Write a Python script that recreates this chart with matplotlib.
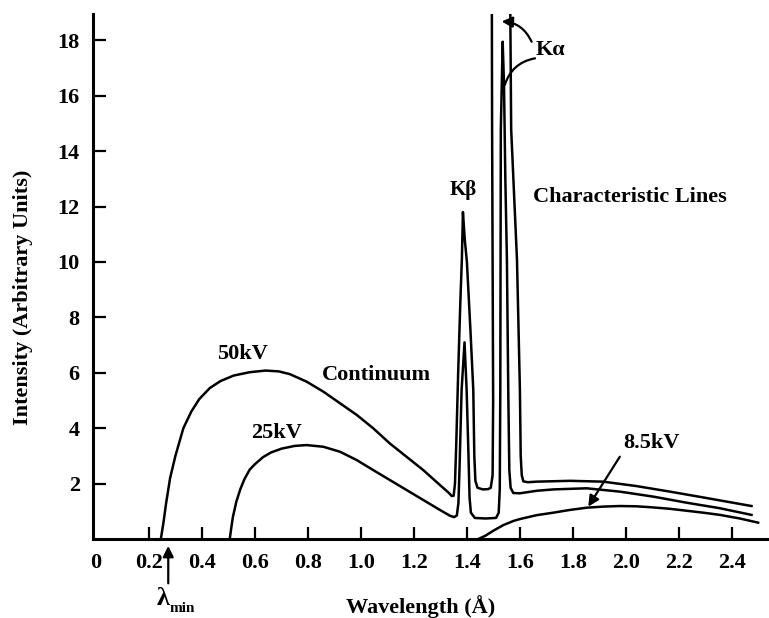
import matplotlib
matplotlib.use("Agg")
import matplotlib.pyplot as plt

plt.rcParams['font.family'] = ['Liberation Serif', 'DejaVu Serif']
plt.rcParams['font.weight'] = 'bold'

# X-ray spectrum of a Cu target: continuum + characteristic K lines
# wavelength in Angstrom, intensity in arbitrary units

# 50 kV tube voltage (continuum, K-beta, K-alpha which goes off scale)
wl_50 = [0.245, 0.255, 0.265, 0.28, 0.30, 0.33, 0.36, 0.39, 0.43, 0.47, 0.52,
         0.58, 0.64, 0.69, 0.732, 0.795, 0.858, 0.921, 0.984, 1.046, 1.109,
         1.172, 1.235, 1.298, 1.330, 1.343, 1.350, 1.355, 1.360, 1.367, 1.375,
         1.381, 1.385, 1.392, 1.400, 1.413, 1.424, 1.428, 1.432, 1.44, 1.46,
         1.48, 1.49, 1.497, 1.499, 1.497, 1.495, 1.494, 1.53, 1.563, 1.567,
         1.589, 1.600, 1.603, 1.607, 1.613, 1.63, 1.663, 1.789, 1.914, 2.04,
         2.166, 2.292, 2.474]
int_50 = [0.0, 0.6, 1.3, 2.2, 3.0, 4.0, 4.6, 5.05, 5.45, 5.7, 5.9,
          6.02, 6.08, 6.05, 5.95, 5.68, 5.32, 4.90, 4.48, 4.0, 3.45,
          2.97, 2.49, 1.95, 1.68, 1.55, 1.56, 2.0, 3.5, 6.0, 8.5,
          10.1, 11.8, 10.8, 10.0, 7.6, 5.4, 3.0, 2.1, 1.85, 1.79,
          1.80, 1.85, 2.3, 5.0, 10.0, 15.0, 20.0, 24.0, 20.0, 14.8,
          10.07, 5.38, 3.0, 2.3, 2.08, 2.05, 2.07, 2.1, 2.07, 1.91,
          1.71, 1.5, 1.19]

# 25 kV tube voltage
wl_25 = [0.505, 0.51, 0.517, 0.53, 0.545, 0.56, 0.58, 0.60, 0.63, 0.66, 0.70,
         0.75, 0.795, 0.858, 0.921, 0.984, 1.046, 1.109, 1.172, 1.235, 1.298,
         1.336, 1.352, 1.362, 1.368, 1.372, 1.380, 1.391, 1.399, 1.406, 1.410,
         1.415, 1.43, 1.47, 1.51, 1.52, 1.524, 1.526, 1.527, 1.528, 1.535,
         1.540, 1.545, 1.551, 1.556, 1.560, 1.565, 1.575, 1.60, 1.663, 1.726,
         1.852, 1.977, 2.103, 2.229, 2.355, 2.474]
int_25 = [0.0, 0.35, 0.8, 1.35, 1.8, 2.15, 2.5, 2.7, 2.95, 3.12, 3.26,
          3.36, 3.39, 3.33, 3.15, 2.85, 2.49, 2.13, 1.77, 1.41, 1.05,
          0.84, 0.79, 0.85, 1.3, 2.5, 5.38, 7.1, 5.38, 3.0, 1.5,
          0.95, 0.76, 0.74, 0.76, 0.95, 1.8, 5.38, 10.07, 14.8, 17.95,
          16.4, 13.0, 10.07, 5.38, 2.5, 1.85, 1.66, 1.65, 1.74, 1.79,
          1.83, 1.71, 1.53, 1.31, 1.11, 0.87]

# 8.5 kV tube voltage (below the K excitation potential, continuum only)
wl_85 = [1.443, 1.47, 1.50, 1.537, 1.575, 1.60, 1.663, 1.726, 1.789, 1.852,
         1.915, 1.977, 2.04, 2.103, 2.166, 2.229, 2.292, 2.355, 2.43, 2.499]
int_85 = [0.0, 0.12, 0.3, 0.5, 0.65, 0.72, 0.86, 0.95, 1.05, 1.13,
          1.17, 1.19, 1.18, 1.14, 1.09, 1.02, 0.95, 0.87, 0.74, 0.59]

xticks = [0, 0.2, 0.4, 0.6, 0.8, 1.0, 1.2, 1.4, 1.6, 1.8, 2.0, 2.2, 2.4]
xtick_labels = ['0', '0.2', '0.4', '0.6', '0.8', '1.0', '1.2', '1.4', '1.6',
                '1.8', '2.0', '2.2', '2.4']
yticks = [2, 4, 6, 8, 10, 12, 14, 16, 18]

fig = plt.figure(figsize=(7.69, 6.18), dpi=100)
ax = fig.add_axes([93 / 769, 79 / 618, 676 / 769, 525 / 618])

lw = 1.8
ax.plot(wl_50, int_50, color='black', lw=lw, solid_joinstyle='round')
ax.plot(wl_25, int_25, color='black', lw=lw, solid_joinstyle='round')
ax.plot(wl_85, int_85, color='black', lw=lw, solid_joinstyle='round')

ax.set_xlim(-0.011, 2.54)
ax.set_ylim(0, 18.95)

for side in ['top', 'right']:
    ax.spines[side].set_visible(False)
for side in ['left', 'bottom']:
    ax.spines[side].set_linewidth(2.2)

ax.set_xticks(xticks)
ax.set_xticklabels(xtick_labels)
ax.set_yticks(yticks)
ax.tick_params(axis='both', direction='in', length=9, width=1.6,
               labelsize=16)
ax.tick_params(axis='y', pad=9.5)
ax.tick_params(axis='x', pad=10)
# the tick at zero sits on the y axis line
ax.xaxis.get_major_ticks()[0].tick1line.set_visible(False)

ax.set_xlabel('Wavelength (Å)', fontsize=16, fontweight='bold', va='baseline')
ax.xaxis.set_label_coords(0.484, -0.141)
ax.set_ylabel('Intensity (Arbitrary Units)', fontsize=16, fontweight='bold',
              va='center')
ax.yaxis.set_label_coords(-0.103, 0.46)

# curve labels
tkw = dict(fontsize=16, fontweight='bold', ha='center', va='center')
ax.text(0.555, 6.68, '50kV', **tkw)
ax.text(0.683, 3.83, '25kV', **tkw)
ax.text(1.06, 5.92, 'Continuum', **tkw)
ax.text(1.385, 12.6, 'Kβ', fontsize=15, fontweight='bold', ha='center', va='center')
ax.text(1.717, 17.65, 'Kα', **tkw)
ax.text(2.015, 12.35, 'Characteristic Lines', **tkw)
ax.text(2.098, 3.47, '8.5kV', **tkw)

# arrows
ax.annotate('', xy=(1.858, 1.17), xytext=(1.977, 2.97),
            arrowprops=dict(arrowstyle='-|>', color='black', lw=1.6,
                            mutation_scale=16, shrinkA=0, shrinkB=0))
ax.annotate('', xy=(1.531, 18.68), xytext=(1.644, 17.95),
            arrowprops=dict(arrowstyle='-|>', color='black', lw=1.6,
                            mutation_scale=16, shrinkA=0, shrinkB=0,
                            connectionstyle='arc3,rad=0.3'))
ax.annotate('', xy=(1.543, 16.39), xytext=(1.657, 17.35),
            arrowprops=dict(arrowstyle='-', color='black', lw=1.6,
                            shrinkA=0, shrinkB=0,
                            connectionstyle='arc3,rad=0.3'))

# short wavelength limit marker below the axis
ax.annotate('', xy=(0.273, -0.25), xytext=(0.273, -1.6),
            arrowprops=dict(arrowstyle='-|>', color='black', lw=1.6,
                            mutation_scale=16, shrinkA=0, shrinkB=0),
            annotation_clip=False)
ax.text(0.252, -2.38, 'λ', fontsize=19, fontweight='bold', ha='center',
        va='baseline', clip_on=False)
ax.text(0.278, -2.62, 'min', fontsize=11, fontweight='bold', ha='left',
        va='baseline', clip_on=False)

fig.savefig('out.png', dpi=100)
